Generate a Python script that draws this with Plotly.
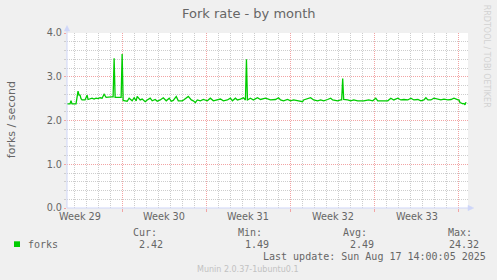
import pandas as pd
import plotly.graph_objects as go

# ---------------- data ----------------
title = "Fork rate - by month"
y_label = "forks / second"
start = "2025-07-15 10:00"      # left edge of the graph
span_hours = 800                # munin month graph (2h per pixel)

hours = [0, 6, 8, 10, 18, 22, 24, 26, 28, 30, 36, 40, 42, 46, 50, 54, 58, 62, 66, 70,
         74, 78, 82, 88, 92, 94, 96, 108, 110, 112, 116, 120, 124, 130, 134, 138, 140, 146, 150, 156,
         160, 166, 170, 176, 180, 186, 192, 198, 204, 208, 212, 218, 222, 230, 234, 242, 248, 252, 256, 260,
         266, 272, 280, 286, 292, 300, 306, 312, 320, 326, 330, 336, 340, 346, 352, 356, 358, 360, 366, 372,
         380, 386, 396, 406, 416, 422, 426, 432, 440, 446, 452, 462, 470, 472, 482, 486, 492, 500, 506, 512,
         520, 526, 530, 540, 546, 548, 550, 552, 560, 566, 572, 580, 592, 602, 610, 616, 620, 640, 646, 652,
         660, 666, 672, 680, 686, 692, 700, 706, 712, 716, 720, 726, 732, 740, 746, 752, 760, 766, 772, 780,
         782, 784, 790, 792, 794, 796]
forks = [2.38, 2.38, 2.45, 2.38, 2.38, 2.67, 2.58, 2.58, 2.50, 2.47, 2.47, 2.58, 2.48, 2.49, 2.51, 2.49, 2.51, 2.50, 2.52, 2.51,
         2.60, 2.53, 2.54, 2.54, 2.54, 3.42, 2.53, 2.53, 3.52, 2.46, 2.45, 2.44, 2.51, 2.45, 2.52, 2.45, 2.55, 2.47, 2.49, 2.43,
         2.47, 2.51, 2.45, 2.48, 2.44, 2.47, 2.52, 2.45, 2.51, 2.44, 2.46, 2.55, 2.45, 2.45, 2.48, 2.55, 2.47, 2.45, 2.41, 2.47,
         2.45, 2.48, 2.45, 2.51, 2.45, 2.47, 2.49, 2.45, 2.47, 2.51, 2.45, 2.51, 2.47, 2.49, 2.52, 2.47, 3.40, 2.47, 2.51, 2.47,
         2.52, 2.48, 2.51, 2.47, 2.48, 2.52, 2.47, 2.45, 2.48, 2.45, 2.47, 2.45, 2.43, 2.47, 2.51, 2.52, 2.47, 2.45, 2.47, 2.45,
         2.48, 2.51, 2.47, 2.45, 2.47, 2.47, 2.96, 2.48, 2.47, 2.45, 2.47, 2.45, 2.45, 2.47, 2.45, 2.51, 2.45, 2.45, 2.51, 2.47,
         2.51, 2.47, 2.48, 2.47, 2.51, 2.47, 2.48, 2.45, 2.47, 2.52, 2.47, 2.47, 2.51, 2.48, 2.47, 2.49, 2.47, 2.48, 2.51, 2.47,
         2.47, 2.41, 2.38, 2.39, 2.36, 2.42]

week_starts = ["2025-07-20", "2025-07-27", "2025-08-03", "2025-08-10", "2025-08-17"]
week_mids = ["2025-07-16 12:00", "2025-07-23 12:00", "2025-07-30 12:00", "2025-08-06 12:00", "2025-08-13 12:00"]
week_labels = ["Week 29", "Week 30", "Week 31", "Week 32", "Week 33"]

y_ticks = [0, 1, 2, 3, 4]
y_tick_labels = ["0.0", "1.0", "2.0", "3.0", "4.0"]

series_name = "forks"
stat_names = ["Cur:", "Min:", "Avg:", "Max:"]
stat_values = ["2.42", "1.49", "2.49", "24.32"]
last_update = "Last update: Sun Aug 17 14:00:05 2025"
footer = "Munin 2.0.37-1ubuntu0.1"
watermark = "RRDTOOL / TOBI OETIKER"

# ---------------- styling / layout ----------------
W, H = 497, 280
L, R, T, B = 67, 29, 33, 72
PW, PH = W - L - R, H - T - B
BOTTOM = H - B

def px(x):
    return (x - L) / PW

def py(y):
    return (BOTTOM - y) / PH

GREEN = "#00cc00"
FONT = "#666666"
GRID = "#cdcdcd"
MGRID = "#f2a4a4"
AXIS = "#cfd6f8"
SANS = "DejaVu Sans"
MONO = "DejaVu Sans Mono"

t0 = pd.Timestamp(start)
times = t0 + pd.to_timedelta(hours, unit="h")
t_end = t0 + pd.Timedelta(hours=span_hours)

fig = go.Figure()
fig.add_trace(go.Scatter(x=times, y=forks, mode="lines",
                         line=dict(color=GREEN, width=1.3), hoverinfo="skip"))

annotations = []
# title
annotations.append(dict(text=title, x=px(248.5), y=py(13.8), xref="paper", yref="paper",
                        xanchor="center", yanchor="middle", showarrow=False,
                        font=dict(family=SANS, size=13, color=FONT)))
# y axis title
annotations.append(dict(text=y_label, x=px(11.2), y=py(120), xref="paper", yref="paper",
                        xanchor="center", yanchor="middle", showarrow=False, textangle=-90,
                        font=dict(family=SANS, size=11, color=FONT)))
# watermark
annotations.append(dict(text=watermark, x=px(487.3), y=py(56), xref="paper", yref="paper",
                        xanchor="center", yanchor="middle", showarrow=False, textangle=90,
                        font=dict(family=SANS, size=8, color="#d2d2d2")))
# week labels
for wm, wl in zip(week_mids, week_labels):
    annotations.append(dict(text=wl, x=wm, y=py(216.8), xref="x", yref="paper",
                            xanchor="center", yanchor="middle", showarrow=False,
                            font=dict(family=SANS, size=9.7, color=FONT)))
# legend
annotations.append(dict(text=series_name, x=px(26), y=py(244.3), xref="paper", yref="paper",
                        xanchor="left", yanchor="middle", showarrow=False,
                        font=dict(family=MONO, size=10, color=FONT)))
head_x = [131.2, 236.2, 341.2, 446.2]
val_x = [136.5, 242.8, 347.8, 446.8]
for sn, sv, hx, vx in zip(stat_names, stat_values, head_x, val_x):
    annotations.append(dict(text=sn, x=px(hx), y=py(232.3), xref="paper", yref="paper",
                            xanchor="left", yanchor="middle", showarrow=False,
                            font=dict(family=MONO, size=10, color=FONT)))
    annotations.append(dict(text=sv, x=px(vx), y=py(244.3), xref="paper", yref="paper",
                            xanchor="left", yanchor="middle", showarrow=False,
                            font=dict(family=MONO, size=10, color=FONT)))
annotations.append(dict(text=last_update, x=px(261.2), y=py(256.7), xref="paper", yref="paper",
                        xanchor="left", yanchor="middle", showarrow=False,
                        font=dict(family=MONO, size=10, color=FONT)))
annotations.append(dict(text=footer, x=px(247.8), y=py(269.3), xref="paper", yref="paper",
                        xanchor="center", yanchor="middle", showarrow=False,
                        font=dict(family=SANS, size=8, color="#c2c2c2")))

def path(points):
    return "M " + " L ".join(f"{px(a):.5f},{py(b):.5f}" for a, b in points) + " Z"

shapes = [
    # axes lines
    dict(type="line", xref="paper", yref="paper", x0=px(67), x1=px(469), y0=py(208), y1=py(208),
         line=dict(color=AXIS, width=1)),
    dict(type="line", xref="paper", yref="paper", x0=px(67), x1=px(67), y0=py(208), y1=py(30),
         line=dict(color=AXIS, width=1)),
    # arrows
    dict(type="path", xref="paper", yref="paper", path=path([(468, 205.3), (473.8, 208), (468, 210.7)]),
         fillcolor=AXIS, line=dict(color=AXIS, width=0.5)),
    dict(type="path", xref="paper", yref="paper", path=path([(64.3, 31), (67, 25.5), (69.7, 31)]),
         fillcolor=AXIS, line=dict(color=AXIS, width=0.5)),
    # legend colour box
    dict(type="rect", xref="paper", yref="paper", x0=px(14), x1=px(20), y0=py(247), y1=py(241.3),
         fillcolor=GREEN, line=dict(width=0)),
]

fig.update_layout(
    width=W, height=H,
    margin=dict(l=L, r=R, t=T, b=B, pad=0),
    paper_bgcolor="#f0f0f0", plot_bgcolor="#ffffff",
    showlegend=False,
    annotations=annotations,
    shapes=shapes,
    xaxis=dict(type="date", range=[t0, t_end], tickmode="array", tickvals=week_starts,
               showticklabels=False, ticks="outside", ticklen=3, tickcolor=MGRID, tickwidth=1,
               showgrid=True, gridcolor=MGRID, griddash="1px,1px", gridwidth=1,
               minor=dict(dtick=86400000, tick0="2025-07-15", showgrid=True, gridcolor=GRID,
                          griddash="1px,1px", gridwidth=1, ticks=""),
               zeroline=False, showline=False, fixedrange=True),
    yaxis=dict(range=[0, 4], tickmode="array", tickvals=y_ticks, ticktext=y_tick_labels,
               ticks="outside", ticklen=2, tickcolor=MGRID, tickwidth=1,
               showgrid=True, gridcolor=MGRID, griddash="1px,1px", gridwidth=1,
               minor=dict(dtick=0.2, showgrid=True, gridcolor=GRID, griddash="1px,1px", gridwidth=1,
                          ticks="outside", ticklen=2, tickcolor=GRID),
               tickfont=dict(family=SANS, size=9.7, color=FONT),
               zeroline=False, showline=False, fixedrange=True),
)

fig.write_html("out.html")
